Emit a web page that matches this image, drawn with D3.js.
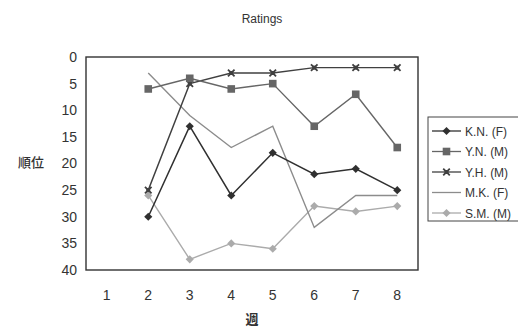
<!DOCTYPE html>
<html>
<head>
<meta charset="utf-8">
<script src="https://cdn.jsdelivr.net/npm/d3@7"></script>
<style>
  html, body { margin: 0; padding: 0; background: #fff; }
  svg { display: block; font-family: "Liberation Sans", Arial, sans-serif; }
</style>
</head>
<body>
<svg id="chart" width="518" height="330"></svg>
<script>
// Weekly ranking positions (lower = better); week 1 has no entries
const weeks = [1, 2, 3, 4, 5, 6, 7, 8];
const names = ["K.N. (F)", "Y.N. (M)", "Y.H. (M)", "M.K. (F)", "S.M. (M)"];
const knRank = [null, 30, 13, 26, 18, 22, 21, 25];
const ynRank = [null, 6, 4, 6, 5, 13, 7, 17];
const yhRank = [null, 25, 5, 3, 3, 2, 2, 2];
const mkRank = [null, 3, 11, 17, 13, 32, 26, 26];
const smRank = [null, 26, 38, 35, 36, 28, 29, 28];
const yTicks = [0, 5, 10, 15, 20, 25, 30, 35, 40];

const seriesList = [
  { name: names[0], values: knRank, color: "#303030", marker: "diamond", width: 1.5 },
  { name: names[1], values: ynRank, color: "#666666", marker: "square", width: 1.4 },
  { name: names[2], values: yhRank, color: "#404040", marker: "cross", width: 1.4 },
  { name: names[3], values: mkRank, color: "#8c8c8c", marker: "none", width: 1.4 },
  { name: names[4], values: smRank, color: "#ababab", marker: "diamond", width: 1.4 }
];

const svg = d3.select("#chart");
const plot = { left: 86, top: 57, right: 418, bottom: 270 };

const x = d3.scaleBand().domain(weeks).range([plot.left, plot.right]);
const y = d3.scaleLinear().domain([0, 40]).range([plot.top, plot.bottom]);
const cx = w => x(w) + x.bandwidth() / 2;

// title
svg.append("text").attr("x", 262).attr("y", 23).attr("text-anchor", "middle")
  .attr("font-size", 12).attr("fill", "#333").text("Ratings");

// plot frame
svg.append("rect").attr("x", plot.left).attr("y", plot.top)
  .attr("width", plot.right - plot.left).attr("height", plot.bottom - plot.top)
  .attr("fill", "none").attr("stroke", "#333").attr("stroke-width", 1.4);

// y axis labels
const yAxis = d3.axisLeft(y).tickValues(yTicks).tickSize(0).tickPadding(9);
svg.append("g").attr("transform", `translate(${plot.left},0)`).call(yAxis)
  .call(g => g.select(".domain").remove())
  .selectAll("text").attr("font-size", 14).attr("fill", "#333")
  .attr("font-family", "Liberation Sans, Arial, sans-serif");

// x axis labels
const xAxis = d3.axisBottom(x).tickSize(0).tickPadding(20);
svg.append("g").attr("transform", `translate(0,${plot.bottom})`).call(xAxis)
  .call(g => g.select(".domain").remove())
  .selectAll("text").attr("font-size", 14).attr("fill", "#333")
  .attr("font-family", "Liberation Sans, Arial, sans-serif");

// axis titles
svg.append("text").attr("x", 252).attr("y", 324).attr("text-anchor", "middle")
  .attr("font-size", 13).attr("font-weight", "bold").attr("fill", "#333")
  .attr("font-family", "Noto Sans CJK JP").text("週");
svg.append("text").attr("x", 31).attr("y", 167).attr("text-anchor", "middle")
  .attr("font-size", 13).attr("font-weight", "500").attr("fill", "#333")
  .attr("font-family", "Noto Sans CJK JP").text("順位");

function drawMarker(g, type, px, py, color) {
  if (type === "diamond") {
    g.append("path").attr("d", d3.symbol(d3.symbolDiamond2, 42)())
      .attr("transform", `translate(${px},${py})`).attr("fill", color);
  } else if (type === "square") {
    g.append("rect").attr("x", px - 3.8).attr("y", py - 3.8).attr("width", 7.6).attr("height", 7.6)
      .attr("fill", color);
  } else if (type === "cross") {
    g.append("path").attr("d", d3.symbol(d3.symbolX, 30)())
      .attr("transform", `translate(${px},${py})`).attr("stroke", color)
      .attr("stroke-width", 1.8).attr("fill", "none");
    g.append("rect").attr("x", px - 2).attr("y", py - 2).attr("width", 4).attr("height", 4)
      .attr("fill", color);
  }
}

const line = d3.line().defined(d => d.v != null).x(d => cx(d.w)).y(d => y(d.v));

// draw lighter series first so dark lines sit on top
[...seriesList].reverse().forEach(s => {
  const pts = weeks.map((w, i) => ({ w, v: s.values[i] }));
  const g = svg.append("g");
  g.append("path").datum(pts).attr("d", line).attr("fill", "none")
    .attr("stroke", s.color).attr("stroke-width", s.width);
  pts.filter(p => p.v != null).forEach(p => drawMarker(g, s.marker, cx(p.w), y(p.v), s.color));
});

// legend
const lg = svg.append("g");
lg.append("rect").attr("x", 428).attr("y", 117).attr("width", 95).attr("height", 104)
  .attr("fill", "#fff").attr("stroke", "#444").attr("stroke-width", 1);
seriesList.forEach((s, i) => {
  const ly = 131 + i * 20.5;
  lg.append("line").attr("x1", 432).attr("x2", 461).attr("y1", ly).attr("y2", ly)
    .attr("stroke", s.color).attr("stroke-width", 1.3);
  drawMarker(lg, s.marker, 446.5, ly, s.color);
  lg.append("text").attr("x", 465).attr("y", ly + 4.5).attr("font-size", 12)
    .attr("fill", "#333").text(s.name);
});
</script>
</body>
</html>
